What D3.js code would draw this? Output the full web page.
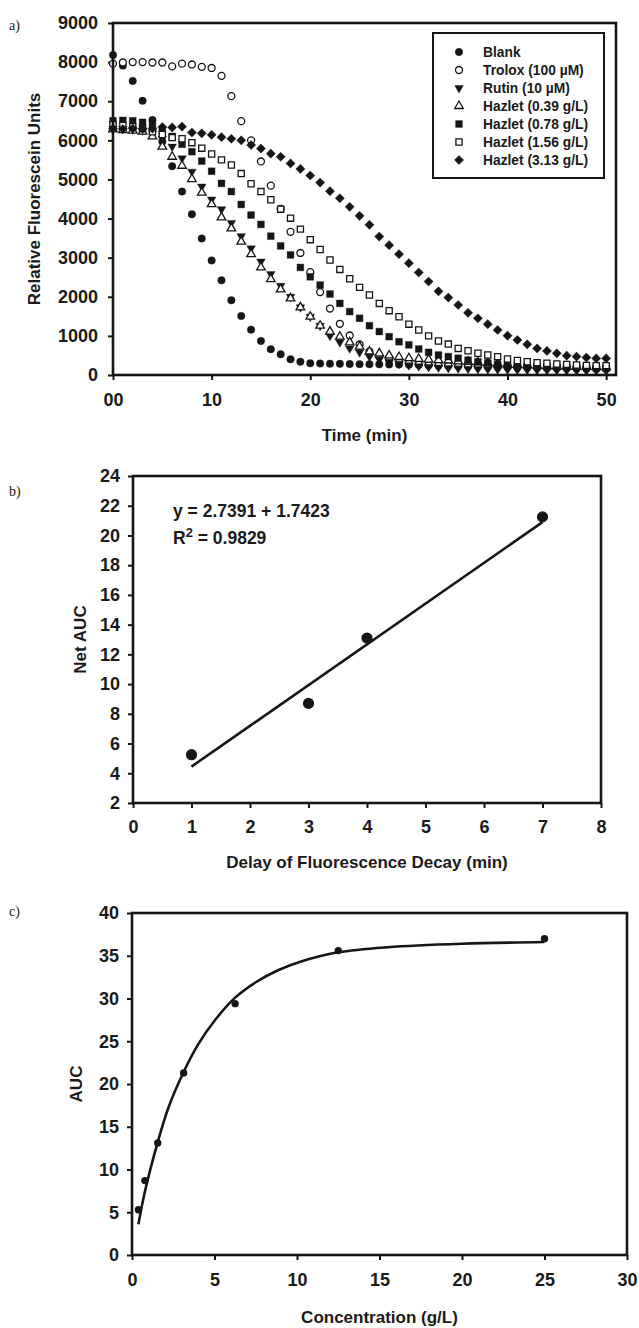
<!DOCTYPE html>
<html><head><meta charset="utf-8">
<script src="https://cdn.jsdelivr.net/npm/d3@7"></script>
<style>
body{margin:0;background:#fff}
svg{display:block}
text{font-family:"Liberation Sans",Arial,sans-serif;font-weight:bold;fill:#1a1a1a}
.plabel{font-family:"Liberation Serif","DejaVu Serif",serif;font-weight:normal;font-size:14px}
</style>
</head><body>
<svg id="c" width="639" height="1328"></svg>
<script>
// ---------- Panel a data ----------
const timeMin = [0,1,2,3,4,5,6,7,8,9,10,11,12,13,14,15,16,17,18,19,20,21,22,23,24,25,26,27,28,29,30,31,32,33,34,35,36,37,38,39,40,41,42,43,44,45,46,47,48,49,50];
const blank   = [8180,7910,7520,7010,6520,5970,5340,4690,4110,3490,2930,2420,1910,1510,1160,870,660,530,400,340,300,295,290,285,280,278,275,272,270,268,265,262,260,258,255,252,250,248,245,242,240,238,235,232,230,228,225,222,220,218,215];
const trolox  = [7960,7990,8000,8000,7990,7990,7890,7960,7940,7880,7850,7650,7130,6490,6000,5460,4840,4250,3660,3120,2630,2120,1700,1310,1010,780,600,470,390,330,290,265,250,240,232,225,220,215,210,205,200,198,195,192,190,188,185,182,180,178,175];
const rutin   = [6300,6290,6280,6250,6180,6050,5840,5540,5200,4820,4490,4240,3890,3550,3240,2900,2580,2280,2000,1730,1490,1260,1000,835,680,580,470,400,340,290,250,225,205,190,180,170,160,152,145,140,135,130,126,122,118,115,112,110,108,105,102];
const hazlet039 = [6280,6260,6250,6220,6100,5840,5580,5350,5010,4660,4370,4030,3750,3410,3090,2750,2450,2190,1960,1730,1490,1260,1110,980,835,725,600,555,500,460,430,410,395,380,370,350,335,320,305,290,275,262,250,240,230,222,215,210,205,200,198];
const hazlet078 = [6500,6510,6500,6460,6380,6250,6100,5900,5710,5470,5210,4900,4690,4360,4090,3850,3550,3300,3070,2750,2510,2300,2070,1830,1620,1450,1260,1110,980,850,770,665,580,510,470,430,380,340,310,280,255,240,225,215,205,198,190,185,180,175,170];
const hazlet156 = [6400,6380,6350,6300,6220,6150,6070,6040,5940,5800,5650,5500,5370,5150,4890,4690,4480,4240,4010,3730,3460,3210,2940,2700,2460,2240,2045,1830,1645,1490,1300,1150,1000,870,790,680,620,555,510,470,410,370,340,315,300,280,270,255,245,240,238];
const hazlet313 = [6300,6290,6300,6290,6300,6340,6330,6350,6200,6180,6140,6080,6040,6000,5880,5790,5660,5580,5410,5270,5100,4920,4700,4520,4300,4070,3840,3540,3320,3090,2860,2620,2390,2140,1980,1790,1590,1450,1300,1150,1005,895,785,680,615,555,495,470,445,425,425];
const seriesNames = ["Blank","Trolox (100 µM)","Rutin (10 µM)","Hazlet (0.39 g/L)","Hazlet (0.78 g/L)","Hazlet (1.56 g/L)","Hazlet (3.13 g/L)"];
const seriesValues = [blank, trolox, rutin, hazlet039, hazlet078, hazlet156, hazlet313];
const seriesMarkers = ["circleFilled","circleOpen","triDown","triUp","squareFilled","squareOpen","diamond"];
const xTicksA = [0,10,20,30,40,50];
const xTickLabelsA = ["00","10","20","30","40","50"];
const yTicksA = [0,1000,2000,3000,4000,5000,6000,7000,8000,9000];

// ---------- Panel b data ----------
const delayMin = [1,3,4,7];
const netAUC = [5.25,8.7,13.1,21.25];
const fitBx = [1,7];
const fitBy = [4.45,20.9];
const eqLine1 = "y = 2.7391 + 1.7423";
const eqLine2a = "R";
const eqLine2sup = "2";
const eqLine2b = " = 0.9829";
const xTicksB = [0,1,2,3,4,5,6,7,8];
const yTicksB = [2,4,6,8,10,12,14,16,18,20,22,24];

// ---------- Panel c data ----------
const concGL = [0.39,0.78,1.56,3.13,6.25,12.5,25];
const auc = [5.3,8.7,13.1,21.3,29.4,35.6,37.0];
const fitCx = [0.39,0.78,1.56,2.2,3.13,4,5,6.25,7.5,8.85,10.2,12.5,15.5,20,25];
const fitCy = [3.6,7.4,13.2,17.2,21.4,24.6,27.4,30.1,31.9,33.3,34.3,35.4,36.0,36.4,36.6];
const xTicksC = [0,5,10,15,20,25,30];
const yTicksC = [0,5,10,15,20,25,30,35,40];

const svg = d3.select("#c");
const INK = "#151515";

function markerPath(kind){
  switch(kind){
    case "circleFilled": case "circleOpen": return d3.symbol(d3.symbolCircle, kind==="circleFilled"?44:38)();
    case "triDown": case "triUp": return d3.symbol(d3.symbolTriangle, 32)();
    case "squareFilled": return d3.symbol(d3.symbolSquare, 46)();
    case "squareOpen": return d3.symbol(d3.symbolSquare, 38)();
    case "diamond": return d3.symbol(d3.symbolSquare, 42)();
  }
}
function markerRot(kind){ return kind==="triDown"?180:(kind==="diamond"?45:0); }
function markerOpen(kind){ return kind==="circleOpen"||kind==="triUp"||kind==="squareOpen"; }
function drawMarker(g, kind, x, y){
  g.append("path").attr("d", markerPath(kind))
    .attr("transform", `translate(${x},${y}) rotate(${markerRot(kind)})`)
    .attr("fill", markerOpen(kind)?"#fff":INK)
    .attr("stroke", INK).attr("stroke-width", markerOpen(kind)?1.3:0.4);
}

function styleAxis(g, fs){
  g.select(".domain").remove();
  g.selectAll(".tick line").attr("stroke", INK).attr("stroke-width", 2);
  g.selectAll(".tick text").attr("font-size", fs).attr("fill", INK)
    .attr("font-family", '"Liberation Sans",Arial,sans-serif').attr("font-weight","bold");
}

function frame(x0,y0,x1,y1){
  svg.append("rect").attr("x",x0).attr("y",y0).attr("width",x1-x0).attr("height",y1-y0)
    .attr("fill","none").attr("stroke",INK).attr("stroke-width",2.6);
}
const plain = d3.format("d");

// ================= Panel a =================
{
  const L=113,R=616,T=23,B=375;
  const x = d3.scaleLinear().domain([0,51]).range([L,R]);
  const y = d3.scaleLinear().domain([0,9000]).range([B,T]);
  const gx = svg.append("g").attr("transform",`translate(0,${B})`)
    .call(d3.axisBottom(x).tickValues(xTicksA).tickFormat((d,i)=>xTickLabelsA[i]).tickSize(5).tickPadding(13).tickSizeOuter(0));
  styleAxis(gx,"18px");
  const gy = svg.append("g").attr("transform",`translate(${L},0)`)
    .call(d3.axisLeft(y).tickValues(yTicksA).tickFormat(plain).tickSize(5).tickPadding(10).tickSizeOuter(0));
  styleAxis(gy,"18px");
  const gm = svg.append("g");
  seriesValues.forEach((vals,si)=>{
    vals.forEach((v,i)=>drawMarker(gm, seriesMarkers[si], x(timeMin[i]), y(v)));
  });
  frame(L,T,R,B);
  // legend
  const lg = svg.append("g");
  lg.append("rect").attr("x",433).attr("y",33).attr("width",171).attr("height",145)
    .attr("fill","#fff").attr("stroke",INK).attr("stroke-width",2);
  seriesNames.forEach((nm,i)=>{
    const yy = 52 + i*18;
    drawMarker(lg, seriesMarkers[i], 459, yy);
    lg.append("text").attr("x",483).attr("y",yy+5).attr("font-size","13.8px").text(nm);
  });
  svg.append("text").attr("transform",`translate(40,${(T+B)/2}) rotate(-90)`)
    .attr("text-anchor","middle").attr("font-size","17px").text("Relative Fluorescein Units");
  svg.append("text").attr("x",(L+R)/2).attr("y",441).attr("text-anchor","middle").attr("font-size","17px").text("Time (min)");
  svg.append("text").attr("class","plabel").attr("x",9).attr("y",30).text("a)");
}

// ================= Panel b =================
{
  const L=133,R=601,T=476,B=803;
  const x = d3.scaleLinear().domain([0,8]).range([L,R]);
  const y = d3.scaleLinear().domain([2,24]).range([B,T]);
  const gx = svg.append("g").attr("transform",`translate(0,${B})`)
    .call(d3.axisBottom(x).tickValues(xTicksB).tickFormat(plain).tickSize(5).tickPadding(12).tickSizeOuter(0));
  styleAxis(gx,"18px");
  const gy = svg.append("g").attr("transform",`translate(${L},0)`)
    .call(d3.axisLeft(y).tickValues(yTicksB).tickFormat(plain).tickSize(5).tickPadding(8).tickSizeOuter(0));
  styleAxis(gy,"18px");
  svg.append("path").datum(fitBx.map((d,i)=>[d,fitBy[i]]))
    .attr("d", d3.line().x(d=>x(d[0])).y(d=>y(d[1])))
    .attr("fill","none").attr("stroke",INK).attr("stroke-width",2.6);
  svg.append("g").selectAll("circle").data(delayMin).join("circle")
    .attr("cx",d=>x(d)).attr("cy",(d,i)=>y(netAUC[i])).attr("r",5.6).attr("fill",INK);
  frame(L,T,R,B);
  svg.append("text").attr("x",173).attr("y",517).attr("font-size","17.5px").text(eqLine1);
  const t2 = svg.append("text").attr("x",173).attr("y",544).attr("font-size","17.5px");
  t2.append("tspan").text(eqLine2a);
  t2.append("tspan").attr("dy",-7).attr("font-size","13px").text(eqLine2sup);
  t2.append("tspan").attr("dy",7).text(eqLine2b);
  svg.append("text").attr("transform",`translate(86,${(T+B)/2}) rotate(-90)`)
    .attr("text-anchor","middle").attr("font-size","17px").text("Net AUC");
  svg.append("text").attr("x",(L+R)/2).attr("y",868).attr("text-anchor","middle").attr("font-size","17px").text("Delay of Fluorescence Decay (min)");
  svg.append("text").attr("class","plabel").attr("x",9).attr("y",496).text("b)");
}

// ================= Panel c =================
{
  const L=132,R=627,T=913,B=1255;
  const x = d3.scaleLinear().domain([0,30]).range([L,R]);
  const y = d3.scaleLinear().domain([0,40]).range([B,T]);
  const gx = svg.append("g").attr("transform",`translate(0,${B})`)
    .call(d3.axisBottom(x).tickValues(xTicksC).tickFormat(plain).tickSize(5).tickPadding(13).tickSizeOuter(0));
  styleAxis(gx,"18px");
  const gy = svg.append("g").attr("transform",`translate(${L},0)`)
    .call(d3.axisLeft(y).tickValues(yTicksC).tickFormat(plain).tickSize(5).tickPadding(8).tickSizeOuter(0));
  styleAxis(gy,"18px");
  svg.append("path").datum(fitCx.map((d,i)=>[d,fitCy[i]]))
    .attr("d", d3.line().x(d=>x(d[0])).y(d=>y(d[1])).curve(d3.curveCatmullRom.alpha(0.5)))
    .attr("fill","none").attr("stroke",INK).attr("stroke-width",2.6);
  svg.append("g").selectAll("circle").data(concGL).join("circle")
    .attr("cx",d=>x(d)).attr("cy",(d,i)=>y(auc[i])).attr("r",3.7).attr("fill",INK);
  frame(L,T,R,B);
  svg.append("text").attr("transform",`translate(82,${(T+B)/2}) rotate(-90)`)
    .attr("text-anchor","middle").attr("font-size","17px").text("AUC");
  svg.append("text").attr("x",(L+R)/2).attr("y",1323).attr("text-anchor","middle").attr("font-size","17px").text("Concentration (g/L)");
  svg.append("text").attr("class","plabel").attr("x",9).attr("y",916).text("c)");
}
</script>
</body></html>
